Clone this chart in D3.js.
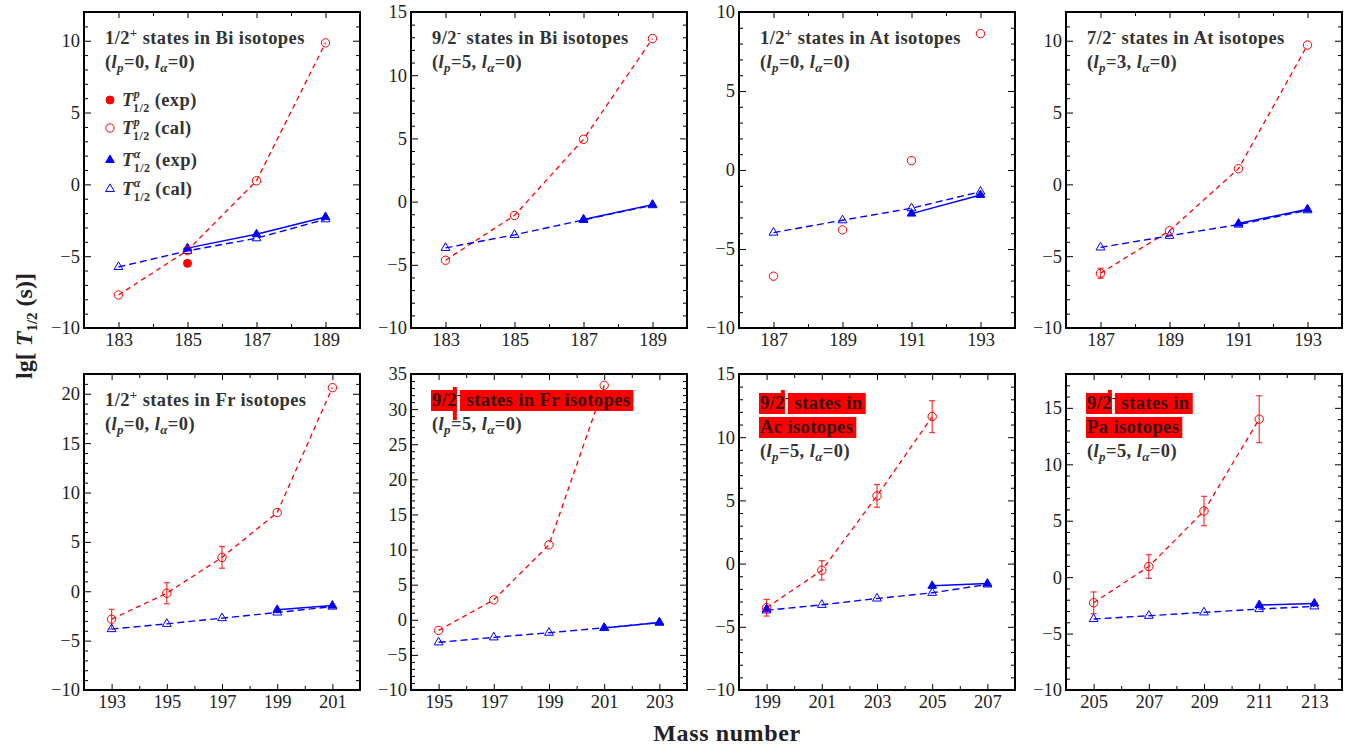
<!DOCTYPE html>
<html>
<head>
<meta charset="utf-8">
<script src="https://cdn.jsdelivr.net/npm/d3@7"></script>
<style>
  body { margin: 0; background: #fff; }
  svg { display: block; font-family: "Liberation Serif", "Times New Roman", serif; }
</style>
</head>
<body>
<div id="plot"></div>
<script>
// panels: Bi 1/2+, Bi 9/2-, At 1/2+, At 7/2-, Fr 1/2+, Fr 9/2-, Ac 9/2-, Pa 9/2-
let spins = ["1/2", "9/2", "1/2", "7/2", "1/2", "9/2", "9/2", "9/2"]
let parities = ["+", "-", "+", "-", "+", "-", "-", "-"]
let elements = ["Bi", "Bi", "At", "At", "Fr", "Fr", "Ac", "Pa"]
let lpValues = [0, 5, 0, 3, 0, 5, 5, 5]
let splitTitle = [false, false, false, false, false, false, true, true]
let highlighted = [false, false, false, false, false, true, true, true]

let xDomains = [[182, 190], [182, 190], [186, 194], [186, 194], [192, 202], [194, 204], [198, 208], [204, 214]]
let yDomains = [[-10, 12], [-10, 15], [-10, 10], [-10, 12], [-10, 22], [-10, 35], [-10, 15], [-10, 18]]

let massNumbers = [
  [183, 185, 187, 189],
  [183, 185, 187, 189],
  [187, 189, 191, 193],
  [187, 189, 191, 193],
  [193, 195, 197, 199, 201],
  [195, 197, 199, 201, 203],
  [199, 201, 203, 205, 207],
  [205, 207, 209, 211, 213]
]

// lg T1/2 (s), proton emission, calculated
let protonCal = [
  [-7.7, -4.6, 0.25, 9.85],
  [-4.64, -1.1, 4.93, 12.9],
  [-6.72, -3.79, 0.59, 8.63],
  [-6.19, -3.23, 1.09, 9.7],
  [-2.83, -0.2, 3.43, 7.97, 20.62],
  [-1.51, 2.83, 10.67, 33.38, null],
  [-3.49, -0.53, 5.36, 11.63, null],
  [-2.27, 0.94, 5.86, 14.0, null]
]
let protonErr = [
  [0, 0, 0, 0],
  [0, 0, 0, 0],
  [0, 0, 0, 0],
  [0.35, 0, 0, 0],
  [1.0, 1.07, 1.1, 0, 0],
  [0, 0, 0, 0, 0],
  [0.66, 0.76, 0.9, 1.26, 0],
  [0.96, 1.05, 1.3, 2.08, 0]
]
let protonCalLine = [true, true, false, true, true, true, true, true]
let protonExp = [
  [null, -5.5, null, null],
  [null, null, null, null],
  [null, null, null, null],
  [null, null, null, null],
  [null, null, null, null, null],
  [null, null, null, null, null],
  [null, null, null, null, null],
  [null, null, null, null, null]
]

// alpha decay
let alphaCal = [
  [-5.75, -4.63, -3.75, -2.43],
  [-3.66, -2.63, -1.45, -0.28],
  [-3.96, -3.18, -2.42, -1.37],
  [-4.39, -3.58, -2.8, -1.8],
  [-3.83, -3.3, -2.72, -2.15, -1.55],
  [-3.21, -2.5, -1.84, -1.15, -0.4],
  [-3.7, -3.26, -2.76, -2.31, -1.65],
  [-3.71, -3.42, -3.12, -2.83, -2.59]
]
let alphaExp = [
  [null, -4.44, -3.47, -2.27],
  [null, null, -1.41, -0.24],
  [null, null, -2.76, -1.58],
  [null, null, -2.73, -1.73],
  [null, null, null, -1.88, -1.45],
  [null, null, null, -1.18, -0.38],
  [-3.6, null, null, -1.76, -1.58],
  [null, null, null, -2.47, -2.33]
]

let legendKinds = ["exp", "cal", "exp", "cal"]
let legendChannels = ["p", "p", "α", "α"]

let svgWidth = 1348
let svgHeight = 747
let colLeft = [84, 411, 739, 1066]
let rowTop = [12, 374]
let panelW = 276
let panelH = 316

let red = "#ff0000"
let blue = "#0000ff"
let titleColor = "#333"

let svg = d3.select("#plot")
  .append("svg")
  .attr("width", svgWidth)
  .attr("height", svgHeight)

function writeSub(text, main, sub) {
  text.append("tspan").attr("font-style", "italic").text(main)
  text.append("tspan").attr("font-style", "italic")
    .attr("font-size", 13).attr("dy", 4).text(sub)
}

function drawTitle(g, i) {
  let lines = splitTitle[i]
    ? [["state", " states in"], ["plain", elements[i] + " isotopes"], ["l"]]
    : [["state", " states in " + elements[i] + " isotopes"], ["l"]]
  let baseY = splitTitle[i] ? 35 : 32
  lines.forEach(function(line, k) {
    let t = g.append("text")
      .attr("x", 21)
      .attr("y", baseY + k * 24)
      .attr("font-size", 18.5)
      .attr("font-weight", "bold")
      .attr("letter-spacing", 0.4)
      .attr("fill", highlighted[i] && line[0] != "l" ? "#3a1010" : titleColor)
    if (line[0] == "state") {
      t.append("tspan").text(spins[i])
      t.append("tspan").attr("font-size", 13).attr("dy", -7).text(parities[i])
      t.append("tspan").attr("dy", 7).text(line[1])
    } else if (line[0] == "plain") {
      t.text(line[1])
    } else {
      t.append("tspan").text("(")
      writeSub(t, "l", "p")
      t.append("tspan").attr("dy", -4).text("=" + lpValues[i] + ", ")
      writeSub(t, "l", "α")
      t.append("tspan").attr("dy", -4).text("=0)")
    }
    if (highlighted[i] && line[0] != "l") {
      let bb = t.node().getBBox()
      let top = baseY + k * 24 - 16
      g.insert("rect", () => t.node())
        .attr("x", bb.x - 1).attr("y", top)
        .attr("width", bb.width + 4).attr("height", 21)
        .attr("fill", red)
      if (line[0] == "state") {
        let gapX = t.node().getStartPositionOfChar(3).x
        g.insert("rect", () => t.node())
          .attr("x", gapX).attr("y", top)
          .attr("width", 3).attr("height", 21).attr("fill", "#fff")
        g.insert("rect", () => t.node())
          .attr("x", gapX - 4).attr("y", top - 3)
          .attr("width", 4).attr("height", i == 5 ? 33 : 24).attr("fill", red)
      }
    }
  })
}

function drawLegend(g) {
  let rowsY = [88, 116, 148, 177]
  legendKinds.forEach(function(kind, k) {
    let y = rowsY[k]
    let color = k < 2 ? red : blue
    if (k < 2) {
      g.append("circle").attr("cx", 26).attr("cy", y).attr("r", kind == "exp" ? 4 : 4.2)
        .attr("fill", kind == "exp" ? color : "#fff").attr("stroke", color).attr("stroke-width", 1)
    } else {
      g.append("path").attr("transform", `translate(26, ${y})`)
        .attr("d", d3.symbol(d3.symbolTriangle, kind == "exp" ? 32 : 34)())
        .attr("fill", kind == "exp" ? color : "#fff").attr("stroke", color).attr("stroke-width", 1)
    }
    let t = g.append("text")
      .attr("x", 38).attr("y", y + 6)
      .attr("font-size", 18.5).attr("font-weight", "bold").attr("fill", titleColor)
      .attr("letter-spacing", 0.4)
    t.append("tspan").attr("font-style", "italic").text("T")
    t.append("tspan").attr("font-style", "italic").attr("font-size", 12).attr("dy", -8).text(legendChannels[k])
    t.append("tspan").attr("font-size", 12).attr("dx", -7).attr("dy", 14).text("1/2")
    t.append("tspan").attr("dy", -6).text(" (" + kind + ")")
  })
}

function styleAxis(sel) {
  sel.select(".domain").remove()
  sel.selectAll("line").attr("stroke", "#000").attr("stroke-width", 1)
  sel.selectAll("text").attr("font-size", 18.5).attr("fill", "#222")
    .attr("font-family", "'Liberation Serif', 'Times New Roman', serif")
}

for (let i = 0; i < 8; i++) {
  let g = svg.append("g")
    .attr("transform", `translate(${colLeft[i % 4]}, ${rowTop[Math.floor(i / 4)]})`)

  let x = d3.scaleLinear().domain(xDomains[i]).range([0, panelW])
  let y = d3.scaleLinear().domain(yDomains[i]).range([panelH, 0])

  let xMajor = d3.range(xDomains[i][0] + 1, xDomains[i][1], 2)
  let xMinor = d3.range(xDomains[i][0], xDomains[i][1] + 1, 2)
  let yMajor = d3.range(yDomains[i][0], yDomains[i][1] + 0.1, 5)
  let yMinor = d3.range(yDomains[i][0], yDomains[i][1] + 0.1, 1).filter(v => v % 5 != 0)

  g.append("g").call(d3.axisLeft(y).tickValues(yMajor).tickSize(-7).tickPadding(4).tickFormat(d3.format("d"))).call(styleAxis)
  g.append("g").call(d3.axisLeft(y).tickValues(yMinor).tickSize(-4).tickFormat("")).call(styleAxis)
  g.append("g").attr("transform", `translate(${panelW}, 0)`)
    .call(d3.axisRight(y).tickValues(yMajor).tickSize(-7).tickFormat("")).call(styleAxis)
  g.append("g").attr("transform", `translate(${panelW}, 0)`)
    .call(d3.axisRight(y).tickValues(yMinor).tickSize(-4).tickFormat("")).call(styleAxis)
  g.append("g").attr("transform", `translate(0, ${panelH})`)
    .call(d3.axisBottom(x).tickValues(xMajor).tickSize(-6).tickPadding(5).tickFormat(d3.format("d"))).call(styleAxis)
  g.append("g").attr("transform", `translate(0, ${panelH})`)
    .call(d3.axisBottom(x).tickValues(xMinor).tickSize(-4).tickFormat("")).call(styleAxis)
  g.append("g").call(d3.axisTop(x).tickValues(xMajor).tickSize(-6).tickFormat("")).call(styleAxis)
  g.append("g").call(d3.axisTop(x).tickValues(xMinor).tickSize(-4).tickFormat("")).call(styleAxis)

  g.append("rect")
    .attr("width", panelW).attr("height", panelH)
    .attr("fill", "none").attr("stroke", "#000").attr("stroke-width", 2)

  drawTitle(g, i)
  if (i == 0) drawLegend(g)

  let rows = massNumbers[i].map((m, k) => ({
    m: m,
    pc: protonCal[i][k], pe: protonExp[i][k], err: protonErr[i][k],
    ac: alphaCal[i][k], ae: alphaExp[i][k]
  }))

  let lineOf = key => d3.line().defined(d => d[key] != null).x(d => x(d.m)).y(d => y(d[key]))

  if (protonCalLine[i]) {
    g.append("path").datum(rows).attr("d", lineOf("pc"))
      .attr("fill", "none").attr("stroke", red).attr("stroke-width", 1.3).attr("stroke-dasharray", "5,4")
  }
  g.append("path").datum(rows).attr("d", lineOf("ac"))
    .attr("fill", "none").attr("stroke", blue).attr("stroke-width", 1.4).attr("stroke-dasharray", "7,4")
  g.append("path").datum(rows).attr("d", lineOf("ae"))
    .attr("fill", "none").attr("stroke", blue).attr("stroke-width", 1.5)

  let errRows = rows.filter(d => d.pc != null && d.err > 0)
  let eb = g.selectAll(".err").data(errRows).enter().append("g").attr("stroke", "#f33").attr("stroke-width", 1.2)
  eb.append("line").attr("x1", d => x(d.m)).attr("x2", d => x(d.m))
    .attr("y1", d => y(d.pc - d.err)).attr("y2", d => y(d.pc + d.err))
  eb.append("line").attr("x1", d => x(d.m) - 3).attr("x2", d => x(d.m) + 3)
    .attr("y1", d => y(d.pc - d.err)).attr("y2", d => y(d.pc - d.err))
  eb.append("line").attr("x1", d => x(d.m) - 3).attr("x2", d => x(d.m) + 3)
    .attr("y1", d => y(d.pc + d.err)).attr("y2", d => y(d.pc + d.err))

  g.selectAll(".ac").data(rows.filter(d => d.ac != null)).enter().append("path")
    .attr("transform", d => `translate(${x(d.m)}, ${y(d.ac)})`)
    .attr("d", d3.symbol(d3.symbolTriangle, 34)())
    .attr("fill", "none").attr("stroke", blue).attr("stroke-width", 1)
  g.selectAll(".ae").data(rows.filter(d => d.ae != null)).enter().append("path")
    .attr("transform", d => `translate(${x(d.m)}, ${y(d.ae)})`)
    .attr("d", d3.symbol(d3.symbolTriangle, 32)())
    .attr("fill", blue).attr("stroke", blue).attr("stroke-width", 1)
  g.selectAll(".pc").data(rows.filter(d => d.pc != null)).enter().append("circle")
    .attr("cx", d => x(d.m)).attr("cy", d => y(d.pc)).attr("r", 4.2)
    .attr("fill", "none").attr("stroke", red).attr("stroke-width", 1)
  g.selectAll(".pe").data(rows.filter(d => d.pe != null)).enter().append("circle")
    .attr("cx", d => x(d.m)).attr("cy", d => y(d.pe)).attr("r", 4)
    .attr("fill", red).attr("stroke", red)
}

let yLabel = svg.append("text")
  .attr("transform", "translate(32, 326) rotate(-90)")
  .attr("text-anchor", "middle")
  .attr("font-size", 24).attr("font-weight", "bold").attr("fill", "#222")
yLabel.append("tspan").text("lg[ ")
yLabel.append("tspan").attr("font-style", "italic").text("T")
yLabel.append("tspan").attr("font-size", 15).attr("dy", 5).text("1/2")
yLabel.append("tspan").attr("dy", -5).text(" (s)]")

svg.append("text")
  .attr("x", 727).attr("y", 741)
  .attr("text-anchor", "middle")
  .attr("font-size", 24).attr("font-weight", "bold").attr("fill", "#222")
  .attr("letter-spacing", 0.6)
  .text("Mass number")
</script>
</body>
</html>
